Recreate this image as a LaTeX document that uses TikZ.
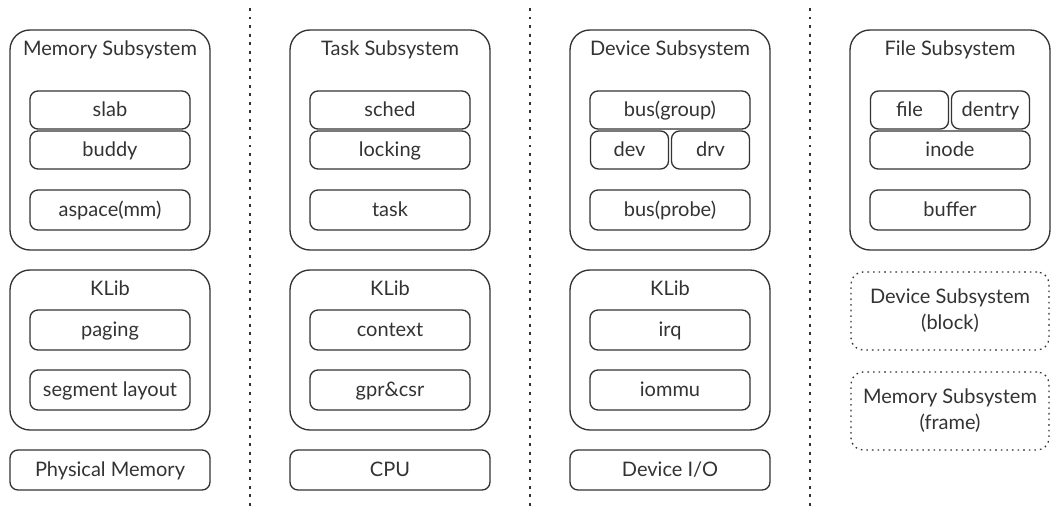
\documentclass[tikz,border=0pt]{standalone}
\usepackage{fontspec}
\setmainfont{Lato}
\definecolor{ink}{HTML}{333333}
\begin{document}
\begin{tikzpicture}[x=0.75pt,y=-0.75pt,
  every node/.style={text=ink, font=\fontsize{15pt}{17pt}\selectfont},
  outer/.style={draw=ink, line width=1pt, rounded corners=15pt, minimum width=150pt, inner sep=0pt},
  inbox/.style={draw=ink, line width=1pt, rounded corners=6pt, minimum width=120pt, minimum height=28.5pt, inner sep=0pt, text height=1.0em, text depth=0.08em},
  halfbox/.style={inbox, minimum width=58.5pt},
  basebox/.style={draw=ink, line width=1pt, rounded corners=6pt, minimum width=150pt, minimum height=30pt, inner sep=0pt, text height=1.0em, text depth=0.08em},
  ghost/.style={draw=ink, line width=1pt, rounded corners=9pt, dash pattern=on 1.2pt off 3pt, minimum width=148.5pt, minimum height=58.5pt, inner sep=0pt, align=center, font=\fontsize{15pt}{19.5pt}\selectfont},
  title/.style={inner sep=0pt, text height=1.0em, text depth=0.08em},
  sep/.style={draw=ink, line width=1.6pt, dash pattern=on 2.2pt off 4.2pt}
]
\useasboundingbox (0,0) rectangle (1060,520);

% separators
\coordinate (s1a) at (250,8); \coordinate (s1b) at (250,508);
\coordinate (s2a) at (530,8); \coordinate (s2b) at (530,508);
\coordinate (s3a) at (810,8); \coordinate (s3b) at (810,508);
\draw[sep] (s1a) -- (s1b);
\draw[sep] (s2a) -- (s2b);
\draw[sep] (s3a) -- (s3b);

% Column 1: Memory
\node[outer, minimum height=165pt] (memsub) at (110,140) {};
\node[title] (memt) at (110,49) {Memory Subsystem};
\node[inbox] (slab) at (110,110) {slab};
\node[inbox] (buddy) at (110,150) {buddy};
\node[inbox, minimum height=30pt] (aspace) at (110,210) {aspace(mm)};
\node[outer, minimum height=120pt] (klib1) at (110,350) {};
\node[title] (klib1t) at (110,289) {KLib};
\node[inbox, minimum height=30pt] (paging) at (110,330) {paging};
\node[inbox, minimum height=30pt] (seg) at (110,390) {segment layout};
\node[basebox] (pmem) at (110,470) {Physical Memory};

% Column 2: Task
\node[outer, minimum height=165pt] (tasksub) at (390,140) {};
\node[title] (taskt) at (390,49) {Task Subsystem};
\node[inbox] (sched) at (390,110) {sched};
\node[inbox] (locking) at (390,150) {locking};
\node[inbox, minimum height=30pt] (task) at (390,210) {task};
\node[outer, minimum height=120pt] (klib2) at (390,350) {};
\node[title] (klib2t) at (390,289) {KLib};
\node[inbox, minimum height=30pt] (context) at (390,330) {context};
\node[inbox, minimum height=30pt] (gpr) at (390,390) {gpr\&csr};
\node[basebox] (cpu) at (390,470) {CPU};

% Column 3: Device
\node[outer, minimum height=165pt] (devsub) at (670,140) {};
\node[title] (devt) at (670,49) {Device Subsystem};
\node[inbox] (busg) at (670,110) {bus(group)};
\node[halfbox] (dev) at (629.5,150) {dev};
\node[halfbox] (drv) at (710.5,150) {drv};
\node[inbox, minimum height=30pt] (busp) at (670,210) {bus(probe)};
\node[outer, minimum height=120pt] (klib3) at (670,350) {};
\node[title] (klib3t) at (670,289) {KLib};
\node[inbox, minimum height=30pt] (irq) at (670,330) {irq};
\node[inbox, minimum height=30pt] (iommu) at (670,390) {iommu};
\node[basebox] (devio) at (670,470) {Device I/O};

% Column 4: File
\node[outer, minimum height=165pt] (filesub) at (950,140) {};
\node[title] (filet) at (950,49) {File Subsystem};
\node[halfbox] (file) at (909.5,110) {file};
\node[halfbox] (dentry) at (990.5,110) {dentry};
\node[inbox] (inode) at (950,150) {inode};
\node[inbox, minimum height=30pt] (buffer) at (950,210) {buffer};
\node[ghost] (blk) at (950,311) {Device Subsystem\\(block)};
\node[ghost] (frame) at (950,411) {Memory Subsystem\\(frame)};
\end{tikzpicture}
\end{document}
